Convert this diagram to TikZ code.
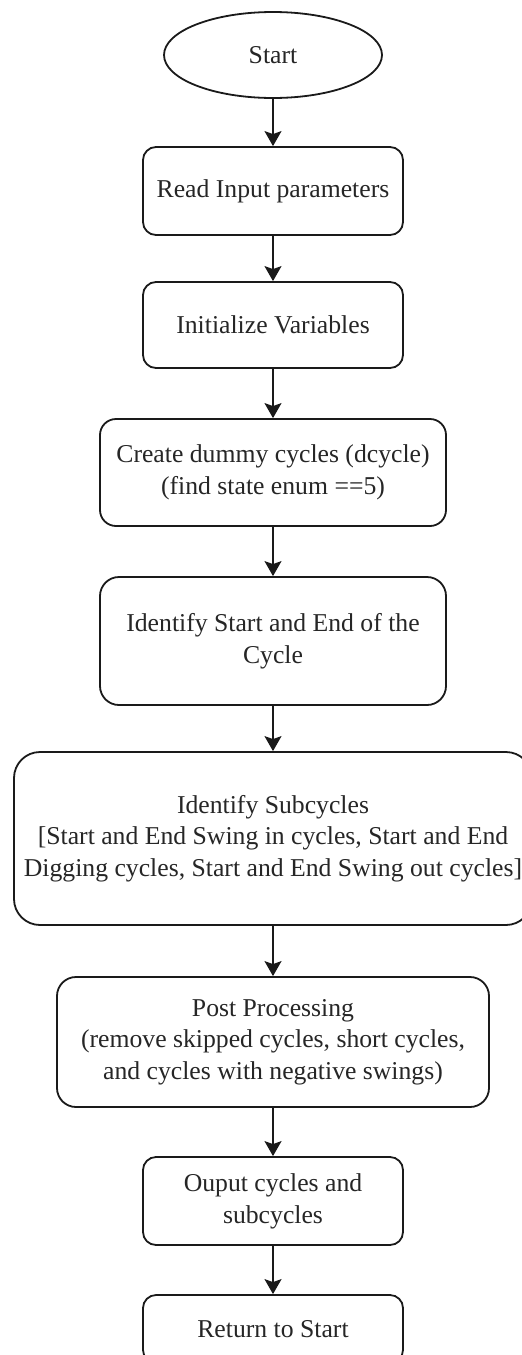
\documentclass[tikz,border=0pt]{standalone}
\usepackage{fontspec}
\setmainfont{Liberation Serif}
\usetikzlibrary{shapes.geometric,arrows.meta}
\definecolor{ink}{HTML}{1A1A1A}
\definecolor{txt}{HTML}{262626}
\tikzset{
  base/.style={draw=ink, line width=1.8pt, fill=white, inner sep=0pt, align=center,
    text=txt, font=\fontsize{25.7}{31.7}\selectfont},
  term/.style={base, ellipse},
  proc/.style={base, rectangle},
  flow/.style={draw=ink, line width=1.8pt, -{Stealth[length=15pt,width=17pt,inset=3pt]}},
}
\begin{document}
\begin{tikzpicture}[x=1pt,y=-1pt]
\useasboundingbox (0,0) rectangle (522,1355);
\fill[white] (0,0) rectangle (522,1355);
\node[term, minimum width=218pt, minimum height=86pt] (start) at (273,55) {Start};
\node[proc, rounded corners=13pt, minimum width=260pt, minimum height=88pt] (read) at (273,191) {Read Input parameters};
\node[proc, rounded corners=13pt, minimum width=260pt, minimum height=86pt] (init) at (273,325) {Initialize Variables};
\node[proc, rounded corners=16pt, minimum width=346pt, minimum height=107pt] (dummy) at (273,472.5) {Create dummy cycles (dcycle)\\(find state enum ==5)};
\node[proc, rounded corners=19pt, minimum width=346pt, minimum height=128pt] (ident) at (273,641) {Identify Start and End of the\\Cycle};
\node[proc, rounded corners=26pt, minimum width=518pt, minimum height=173pt] (sub) at (273,838.5) {Identify Subcycles\\{[}Start and End Swing in cycles, Start and End\\Digging cycles, Start and End Swing out cycles{]}};
\node[proc, rounded corners=19pt, minimum width=432pt, minimum height=130pt] (post) at (273,1042) {Post Processing\\(remove skipped cycles, short cycles,\\and cycles with negative swings)};
\node[proc, rounded corners=13pt, minimum width=260pt, minimum height=88pt] (out) at (273,1201) {Ouput cycles and\\subcycles};
\node[proc, rounded corners=13pt, minimum width=260pt, minimum height=68pt] (ret) at (273,1329) {Return to Start};
\draw[flow] (start) -- (read);
\draw[flow] (read) -- (init);
\draw[flow] (init) -- (dummy);
\draw[flow] (dummy) -- (ident);
\draw[flow] (ident) -- (sub);
\draw[flow] (sub) -- (post);
\draw[flow] (post) -- (out);
\draw[flow] (out) -- (ret);
\end{tikzpicture}
\end{document}
